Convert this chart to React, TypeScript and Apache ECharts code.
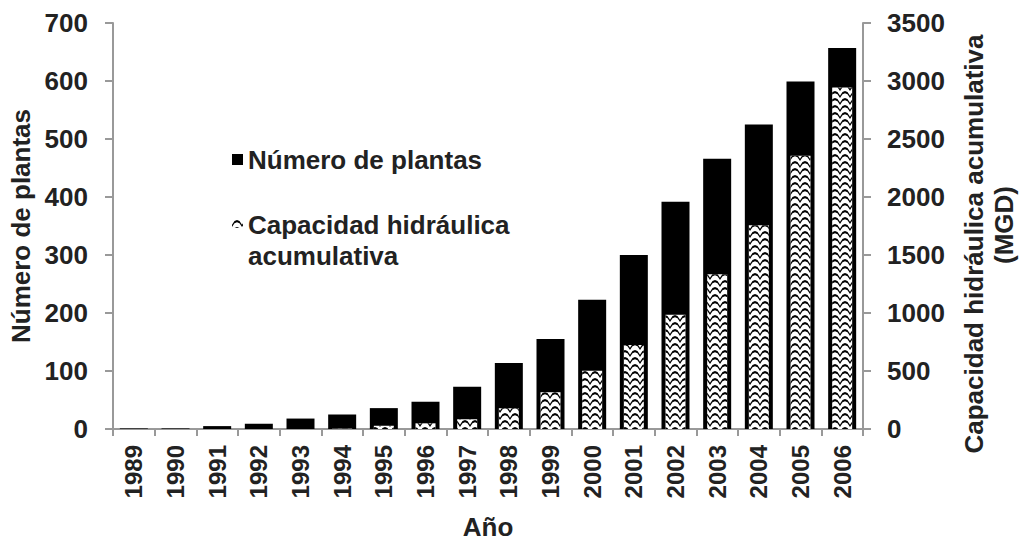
import React, { useEffect, useRef } from "react";
import * as echarts from "echarts";

const years = ["1989","1990","1991","1992","1993","1994","1995","1996","1997","1998","1999","2000","2001","2002","2003","2004","2005","2006"];
const plantCount = [1, 1, 5, 9, 18, 25, 36, 47, 73, 114, 155, 223, 300, 392, 466, 525, 599, 657];
const capacityMGD = [0, 0, 0, 0, 0, 3, 28, 49, 84, 179, 317, 503, 725, 984, 1335, 1757, 2355, 2945];
const seriesNames = ["Número de plantas", "Capacidad hidráulica acumulativa"];
const leftTicks = { min: 0, max: 700, interval: 100 };
const rightTicks = { min: 0, max: 3500, interval: 500 };
const axisTitles = { left: "Número de plantas", right: ["Capacidad hidráulica acumulativa", "(MGD)"], bottom: "Año" };

const FONT = "'Liberation Sans', Arial, sans-serif";
const TXT = "#222";
const AX = "#999";

export default function App() {
  const ref = useRef<HTMLDivElement>(null);
  useEffect(() => {
    if (!ref.current) return;
    const chart = echarts.init(ref.current, null, { renderer: "svg" });
    const wave = {
      symbol: "path://M0,5 L2.5,1.5 L5,0.5 L7.5,1.5 L10,5 L10,7 L7.5,3.5 L5,2.5 L2.5,3.5 L0,7 Z",
      symbolSize: 1,
      symbolKeepAspect: false,
      color: "#000",
      backgroundColor: "#fff",
      dashArrayX: [10, 0],
      dashArrayY: [7, 0],
      rotation: 0,
    };
    const axisLine = { show: true, lineStyle: { color: AX, width: 2 } };
    const yLabel = { color: TXT, fontFamily: FONT, fontWeight: "bold", fontSize: 26, formatter: (v: number) => String(v) };
    const legendText = { color: TXT, fontFamily: FONT, fontWeight: "bold", fontSize: 26, lineHeight: 31 };
    const titleRich = { color: TXT, fontFamily: FONT, fontWeight: "bold", fontSize: 26, lineHeight: 30 };
    chart.setOption({
      animation: false,
      backgroundColor: "#fff",
      grid: { left: 113, right: 158, top: 23, bottom: 113, containLabel: false, outerBoundsMode: "none" },
      legend: [
        {
          data: [seriesNames[0]],
          left: 227,
          top: 139,
          icon: "rect",
          itemWidth: 11,
          itemHeight: 11,
          textStyle: legendText,
        },
        {
          data: [seriesNames[1]],
          left: 227,
          top: 204,
          icon: "path://M0,0 L11,0 L11,8 L0,8 Z M0,40",
          itemWidth: 11,
          itemHeight: 40,
          formatter: () => "Capacidad hidráulica\nacumulativa",
          textStyle: legendText,
        },
      ],
      xAxis: [
        {
          type: "category",
          data: years,
          name: axisTitles.bottom,
          nameLocation: "middle",
          nameGap: 86,
          nameTextStyle: { color: TXT, fontFamily: FONT, fontWeight: "bold", fontSize: 26, lineHeight: 24 },
          axisLine,
          axisTick: { show: true, length: 7, lineStyle: { color: AX, width: 2 } },
          axisLabel: { rotate: 90, margin: 16, color: TXT, fontFamily: FONT, fontWeight: "bold", fontSize: 24 },
        },
        { type: "category", data: years, show: false },
      ],
      yAxis: [
        {
          type: "value",
          ...leftTicks,
          name: axisTitles.left,
          nameLocation: "middle",
          nameRotate: 90,
          nameGap: 78,
          nameTextStyle: { color: TXT, fontFamily: FONT, fontWeight: "bold", fontSize: 26 },
          axisLine,
          axisTick: { show: true, length: 8, lineStyle: { color: AX, width: 2 } },
          axisLabel: { ...yLabel, margin: 25 },
          splitLine: { show: false },
        },
        {
          type: "value",
          position: "right",
          ...rightTicks,
          name: "{a|" + axisTitles.right[0] + "}\n{b|" + axisTitles.right[1] + "}",
          nameLocation: "middle",
          nameRotate: 90,
          nameGap: 96,
          nameTextStyle: {
            ...titleRich,
            padding: [0, 36, 0, 0],
            rich: {
              a: { ...titleRich },
              b: { ...titleRich, padding: [0, 0, 0, 38] },
            },
          },
          axisLine,
          axisTick: { show: true, length: 8, lineStyle: { color: AX, width: 2 } },
          axisLabel: { ...yLabel, margin: 24 },
          splitLine: { show: false },
        },
      ],
      series: [
        {
          name: seriesNames[0],
          type: "bar",
          xAxisIndex: 0,
          yAxisIndex: 0,
          data: plantCount,
          barWidth: 28,
          itemStyle: { color: "#000" },
        },
        {
          name: seriesNames[1],
          type: "bar",
          xAxisIndex: 1,
          yAxisIndex: 1,
          data: capacityMGD,
          barWidth: 20,
          itemStyle: { color: "#fff", decal: wave },
        },
      ],
    });
    return () => chart.dispose();
  }, []);
  return <div ref={ref} style={{ position: "fixed", left: 0, top: 0, width: 1021, height: 542 }} />;
}
